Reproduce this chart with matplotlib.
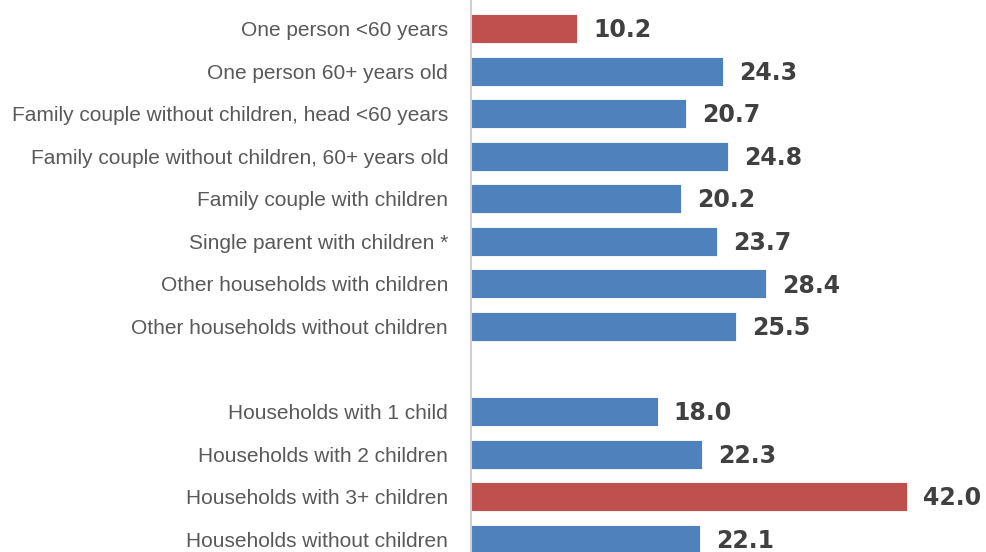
import matplotlib
matplotlib.use("Agg")
import matplotlib.pyplot as plt
import numpy as np

categories = [
    "One person <60 years",
    "One person 60+ years old",
    "Family couple without children, head <60 years",
    "Family couple without children, 60+ years old",
    "Family couple with children",
    "Single parent with children *",
    "Other households with children",
    "Other households without children",
    "",
    "Households with 1 child",
    "Households with 2 children",
    "Households with 3+ children",
    "Households without children",
]
values = [10.2, 24.3, 20.7, 24.8, 20.2, 23.7, 28.4, 25.5, None, 18.0, 22.3, 42.0, 22.1]
highlight = [True, False, False, False, False, False, False, False, False, False, False, True, False]

BLUE = "#4F81BD"
RED = "#C0504D"

W, H = 987, 552
fig = plt.figure(figsize=(W / 100, H / 100), dpi=100)
ax_left = 471 / W
ax = fig.add_axes([ax_left, 0, 1 - ax_left, 1])

px_per_row = 42.56
top_center = 28.5
y_top = -top_center / px_per_row
y_bot = (H - top_center) / px_per_row
px_per_unit = 10.38
ax.set_xlim(0, (W - 471) / px_per_unit)
ax.set_ylim(y_bot, y_top)

for i, (v, hl) in enumerate(zip(values, highlight)):
    if v is None:
        continue
    col = RED if hl else BLUE
    ax.barh(i, v, height=0.68, color=col, edgecolor="#ffffff", linewidth=0.6, zorder=2)
    ax.text(v + 16 / px_per_unit, i + 0.04, f"{v:.1f}", va="center", ha="left",
            fontsize=17, fontweight="bold", color="#404040",
            family=["DejaVu Sans"])

ax.set_yticks(range(len(categories)))
ax.set_yticklabels(categories, family=["Liberation Sans", "DejaVu Sans"],
                   fontsize=15, color="#595959")
ax.tick_params(axis="y", length=0, pad=16.5)
ax.set_xticks([])
for s in ["top", "right", "bottom"]:
    ax.spines[s].set_visible(False)
ax.spines["left"].set_color("#D0D0D0")
ax.spines["left"].set_linewidth(1.5)
ax.set_facecolor("white")

fig.savefig("out.png", dpi=100, facecolor="white")
